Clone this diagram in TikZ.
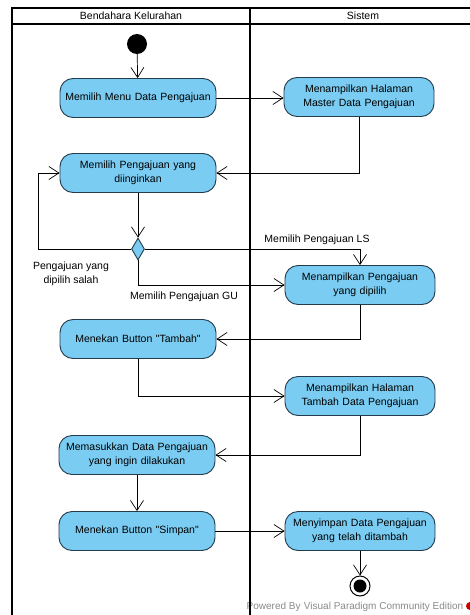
\documentclass[tikz,border=0pt]{standalone}
\usepackage{fontspec}
\setmainfont{Liberation Sans}[Ligatures=TeXOff]
\usetikzlibrary{arrows.meta,shapes.geometric}
\definecolor{actfill}{HTML}{7ACCF2}
\definecolor{actdraw}{HTML}{233B4B}
\definecolor{wmgray}{HTML}{8A8A8A}
\begin{document}
\begin{tikzpicture}[x=1pt,y=-1pt,
  actL/.style={draw=actdraw, fill=actfill, rounded corners=13pt, line width=0.9pt,
    minimum width=156pt, minimum height=39pt, text width=152pt, align=center,
    font=\fontsize{10.5}{13.5}\selectfont, inner sep=1pt},
  actR/.style={actL, minimum width=150pt, text width=146pt},
  flow/.style={-{Straight Barb[length=10pt,width=13pt,line width=0.7pt]}, line width=0.7pt, draw=black},
  lbl/.style={font=\fontsize{10.5}{13.5}\selectfont, align=center, inner sep=0pt},
  pool/.style={line width=1.6pt, draw=black}
]
\useasboundingbox (0,0) rectangle (470,615);
\fill[white] (0,0) rectangle (470,615);

% watermark
\node[font=\fontsize{10}{12}\selectfont, text=wmgray, inner sep=0pt] (wm) at (355,607) {Powered By\,\,Visual Paradigm Community Edition};
\fill[red!80!black] (470,606) circle (4);

% pool
\draw[pool] (12,620) -- (12,8) -- (476,8) -- (476,620);
\draw[pool] (12,24) -- (476,24);
\draw[pool] (250,8) -- (250,620);
\node[lbl] (h1) at (131,16) {Bendahara Kelurahan};
\node[lbl] (h2) at (363,16) {Sistem};

% nodes
\node[circle, fill=black, minimum size=20pt, inner sep=0pt] (start) at (137,44) {};
\node[actL] (n1) at (138,98) {Memilih Menu Data Pengajuan};
\node[actR] (n2) at (359,97) {Menampilkan Halaman\\Master Data Pengajuan};
\node[actL] (n3) at (138,173) {Memilih Pengajuan yang\\diinginkan};
\node[diamond, draw=actdraw, fill=actfill, line width=0.9pt, minimum width=13pt, minimum height=22pt, inner sep=0pt] (d) at (138,249) {};
\node[actR] (n4) at (360,285) {Menampilkan Pengajuan\\yang dipilih};
\node[actL] (n5) at (138,339) {Menekan Button "Tambah"};
\node[actR] (n6) at (360,396) {Menampilkan Halaman\\Tambah Data Pengajuan};
\node[actL] (n7) at (137,455) {Memasukkan Data Pengajuan\\yang ingin dilakukan};
\node[actL] (n8) at (137,531) {Menekan Button "Simpan"};
\node[actR] (n9) at (360,531) {Menyimpan Data Pengajuan\\yang telah ditambah};
\node[circle, draw=black, fill=white, line width=1pt, minimum size=20pt, inner sep=0pt] (end) at (360,586) {};
\fill[black] (end.center) circle (6.5);

\coordinate (lp) at (38,173);

% connectors
\draw[flow] (start) -- (n1);
\draw[flow] (n1.east) -- (n2.west |- n1.east);
\draw[flow] (n2.south) |- (n3.east);
\draw[flow] (n3.south) -- (d.north);
\draw[flow] (d.west) -| (lp) -- (n3.west);
\draw[flow] (d.east) -| (n4.north);
\draw[flow] (d.south) |- (n4.west);
\draw[flow] (n4.south) |- (n5.east);
\draw[flow] (n5.south) |- (n6.west);
\draw[flow] (n6.south) |- (n7.east);
\draw[flow] (n7.south) -- (n8.north);
\draw[flow] (n8.east) -- (n9.west);
\draw[flow] (n9.south) -- (end.north);

% labels
\node[lbl] (l1) at (71,274) {Pengajuan yang\\dipilih salah};
\node[lbl] (l2) at (317,240) {Memilih Pengajuan LS};
\node[lbl] (l3) at (184,297) {Memilih Pengajuan GU};
\end{tikzpicture}
\end{document}
